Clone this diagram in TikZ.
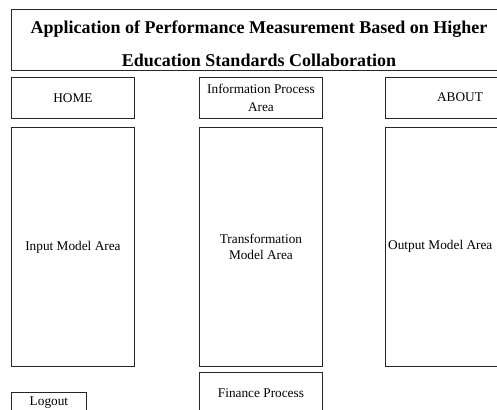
\documentclass[tikz,border=0pt]{standalone}
\usepackage{fontspec}
\setmainfont{Liberation Serif}
\begin{document}
\begin{tikzpicture}[x=1pt,y=-1pt,
  box/.style={draw=black!85, line width=0.9pt, rectangle, anchor=north west, inner sep=0pt, align=center, font=\fontsize{13.3}{16}\selectfont},
  lbl/.style={inner sep=0pt, align=center, font=\fontsize{13.3}{16}\selectfont}]
\useasboundingbox (0,0) rectangle (497,409);
\clip (0,0) rectangle (497,409);
\fill[white] (0,0) rectangle (497,409);
% title
\node[box, minimum width=496pt, minimum height=61pt] (title) at (11,9) {};
\node[lbl, font=\fontsize{18}{33}\selectfont\bfseries] (titletext) at (259,44) {Application of Performance Measurement Based on Higher\\Education Standards Collaboration};
% top row
\node[box, minimum width=123pt, minimum height=41pt] (home) at (11,77) {HOME};
\node[box, minimum width=123pt, minimum height=41pt, font=\fontsize{13.3}{18}\selectfont] (info) at (199,77) {Information Process\\Area};
\node[box, minimum width=150pt, minimum height=41pt] (about) at (385,77) {};
\node[lbl] (abouttext) at (460,97.5) {ABOUT};
% big areas
\node[box, minimum width=123pt, minimum height=239pt] (input) at (11,127) {Input Model Area};
\node[box, minimum width=123pt, minimum height=239pt] (trans) at (199,127) {Transformation\\Model Area};
\node[box, minimum width=150pt, minimum height=239pt] (output) at (385,127) {};
\node[lbl, anchor=west] (outputtext) at (388,246.5) {Output Model Area};
% bottom
\node[box, minimum width=123pt, minimum height=41pt] (finance) at (199,372) {Finance Process};
\node[box, minimum width=75pt, minimum height=20pt] (logout) at (11,392) {Logout};
\end{tikzpicture}
\end{document}
